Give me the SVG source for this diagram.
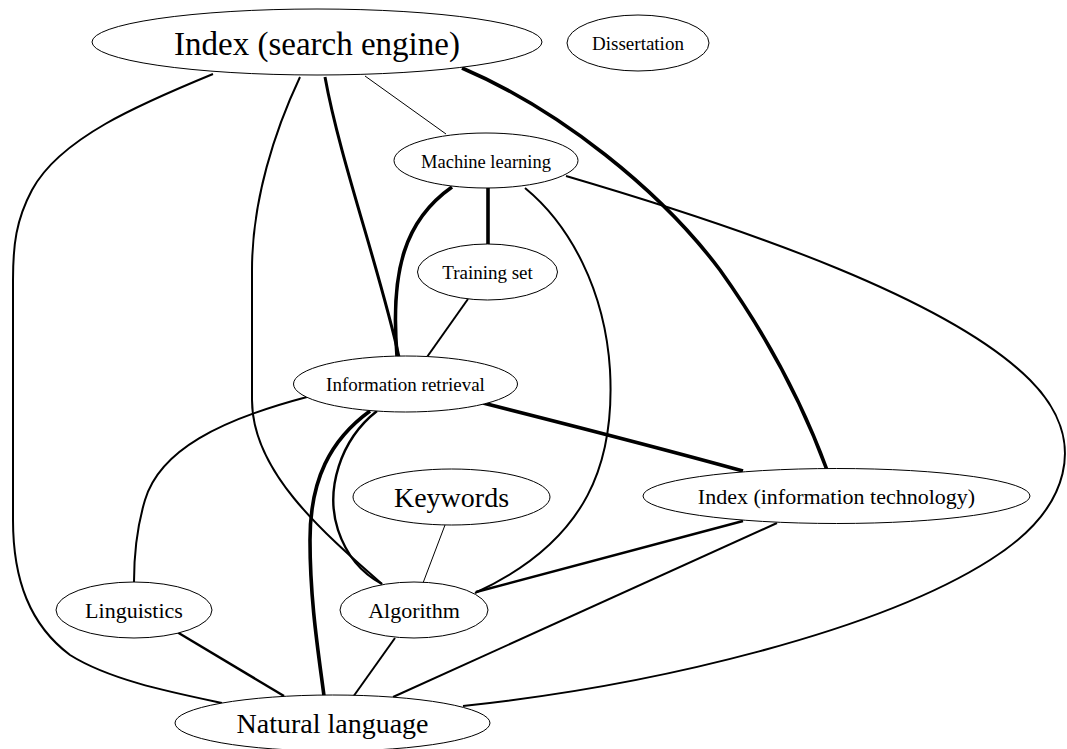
<svg xmlns="http://www.w3.org/2000/svg" width="1067" height="749" viewBox="0 0 1067 749">
<style>
.n ellipse{fill:#fff;stroke:#000;stroke-width:1}
.n text{font-family:"Liberation Serif","Times New Roman",serif;text-anchor:middle;fill:#000}
.e path{fill:none;stroke:#000;stroke-linecap:butt}
.w1{stroke-width:1}
.w2{stroke-width:2}
.w25{stroke-width:2.4}
.w3{stroke-width:3}
.w4{stroke-width:3.6}
</style>
<rect width="1067" height="749" fill="#fff"/>
<g id="edges" class="e">
<path class="w2" d="M213,74 C140,104 60,138 32,190 C16,220 13,245 13,280 L13,520 C13,580 30,625 70,655 C110,680 170,692 222,703"/>
<path class="w2" d="M300,77 C275,130 252,200 252,270 L252,400 C252,470 320,530 382,584"/>
<path class="w3" d="M325,77 C340,160 380,270 399,357"/>
<path class="w1" d="M365,76 L446,134"/>
<path class="w4" d="M462,68 C560,110 660,190 720,270 C770,340 805,410 827,470"/>
<path class="w4" d="M488,188 L488,244"/>
<path class="w4" d="M452,187 C405,220 390,270 397,356"/>
<path class="w2" d="M525,188 C570,225 605,290 610,370 C615,460 590,540 475,593"/>
<path class="w2" d="M566,176 C750,230 950,300 1030,380 C1090,440 1070,510 990,560 C880,630 660,685 463,706"/>
<path class="w2" d="M468,299 L427,357"/>
<path class="w2" d="M307,397 C220,420 160,450 145,500 C136,530 134,555 134,582"/>
<path class="w4" d="M370,411 C330,440 310,480 310,540 C310,600 318,650 324,696"/>
<path class="w25" d="M377,411 C340,440 325,490 338,530 C348,560 365,575 382,584"/>
<path class="w4" d="M483,403 C570,425 660,448 743,471"/>
<path class="w1" d="M445,525 L423,583"/>
<path class="w25" d="M743,521 L476,592"/>
<path class="w2" d="M777,523 L393,697"/>
<path class="w25" d="M177,632 L284,696"/>
<path class="w2" d="M395,638 L353,697"/>
</g>
<g id="n-index-search-engine" class="n"><ellipse cx="317" cy="42" rx="225" ry="33"/><text x="317" y="55" font-size="33">Index (search engine)</text></g>
<g id="n-dissertation" class="n"><ellipse cx="638" cy="43" rx="71" ry="28"/><text x="638" y="50" font-size="19">Dissertation</text></g>
<g id="n-machine-learning" class="n"><ellipse cx="486" cy="160.5" rx="92" ry="27.5"/><text x="486" y="168" font-size="18.5">Machine learning</text></g>
<g id="n-training-set" class="n"><ellipse cx="487.5" cy="272" rx="70" ry="28"/><text x="487.5" y="279" font-size="19">Training set</text></g>
<g id="n-information-retrieval" class="n"><ellipse cx="405.5" cy="384" rx="112" ry="28"/><text x="405.5" y="391" font-size="19">Information retrieval</text></g>
<g id="n-keywords" class="n"><ellipse cx="451.5" cy="497" rx="98.5" ry="28"/><text x="451.5" y="507" font-size="28">Keywords</text></g>
<g id="n-index-it" class="n"><ellipse cx="836.5" cy="496" rx="193.5" ry="27.5"/><text x="836.5" y="504" font-size="22">Index (information technology)</text></g>
<g id="n-linguistics" class="n"><ellipse cx="134" cy="610" rx="78" ry="28"/><text x="134" y="618" font-size="22">Linguistics</text></g>
<g id="n-algorithm" class="n"><ellipse cx="414" cy="610" rx="74" ry="28"/><text x="414" y="618" font-size="22">Algorithm</text></g>
<g id="n-natural-language" class="n"><ellipse cx="332.5" cy="723" rx="157.5" ry="28"/><text x="332.5" y="733" font-size="28">Natural language</text></g>
</svg>
